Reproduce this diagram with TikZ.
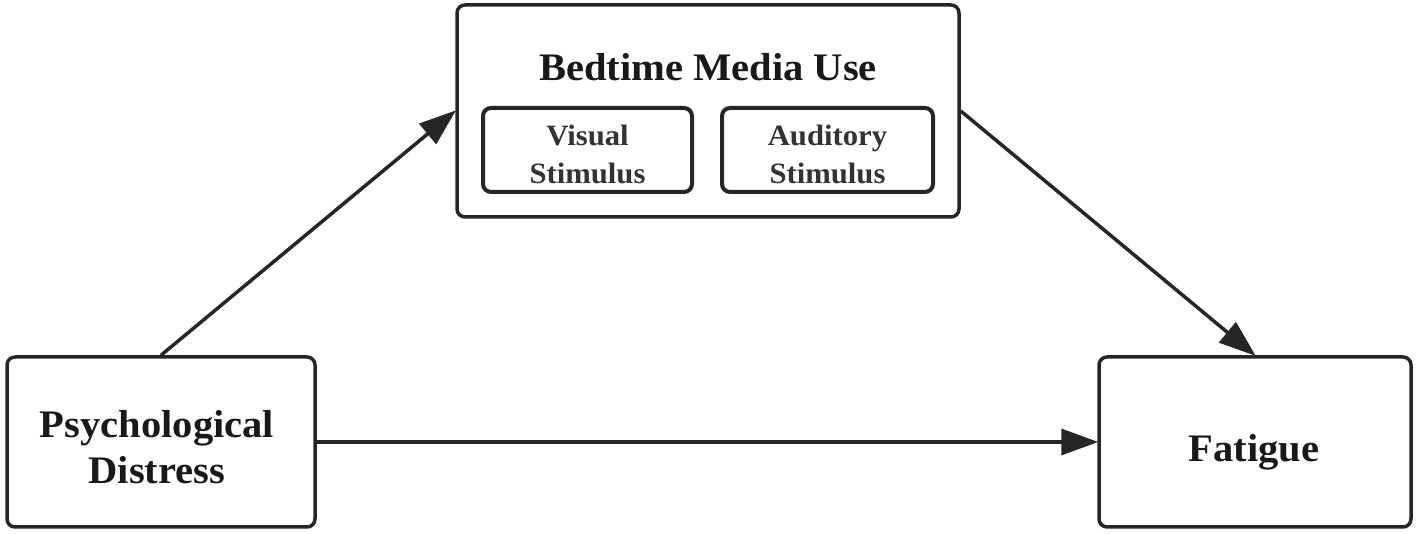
\documentclass[tikz,border=0pt]{standalone}
\usepackage{fontspec}
\setmainfont[FakeStretch=1.04]{Liberation Serif}
\usetikzlibrary{arrows.meta}
\tikzset{
  box/.style={draw=black!85, line width=3.5pt, rounded corners=8pt, inner sep=0pt, fill=white},
  bigtext/.style={font=\fontsize{39}{46}\selectfont\bfseries, align=center, text=black!90},
  smalltext/.style={font=\fontsize{29.5}{38}\selectfont\bfseries, align=center, text=black!80},
  link/.style={draw=black!85, line width=3.5pt, -{Triangle[length=37pt,width=26pt]}, shorten >=-1pt}
}
\begin{document}
\begin{tikzpicture}[x=1pt,y=1pt]
\useasboundingbox (0,0) rectangle (1417,534);
\fill[white] (0,0) rectangle (1417,534);
\node[box, minimum width=502pt, minimum height=212pt] (media) at (708,423) {};
\node[bigtext] (title) at (708,467) {Bedtime Media Use};
\node[box, line width=4pt, minimum width=209pt, minimum height=84pt] (visual) at (587.5,384) {};
\node[smalltext] (vistext) at (587.5,380) {Visual\\Stimulus};
\node[box, line width=4pt, minimum width=211pt, minimum height=84pt] (auditory) at (827.5,384) {};
\node[smalltext] (audtext) at (827.5,380) {Auditory\\Stimulus};
\node[box, minimum width=308pt, minimum height=170pt] (psych) at (161,92) {};
\node[bigtext] (psychtext) at (157,87) {Psychological\\Distress};
\node[box, minimum width=312pt, minimum height=170pt] (fatigue) at (1255,92) {};
\node[bigtext] (fattext) at (1254,82) {Fatigue};
\draw[link] (psych.north) -- (media.west);
\draw[link] (media.east) -- (fatigue.north);
\draw[link] (psych.east) -- (fatigue.west);
\end{tikzpicture}
\end{document}
